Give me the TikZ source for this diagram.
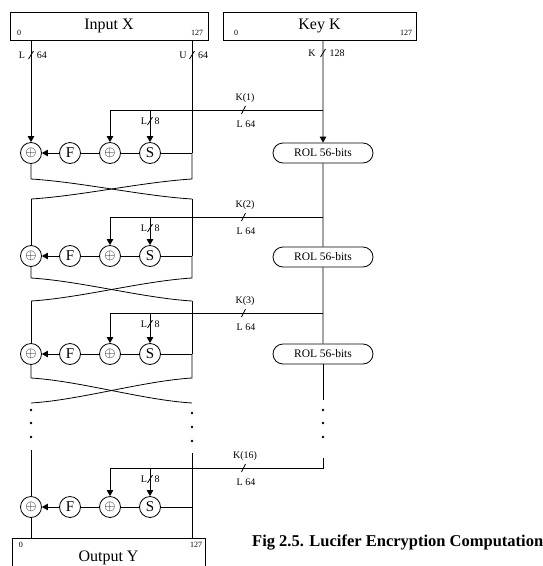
\documentclass[tikz,border=0pt]{standalone}
\usepackage{fontspec}
\setmainfont{Liberation Serif}
\usetikzlibrary{arrows.meta,shapes.misc}
\begin{document}
\begin{tikzpicture}[x=1pt,y=-1pt,
  ln/.style={line width=0.8pt},
  arr/.style={ln,-{Triangle[length=6pt,width=6.5pt]}},
  bigbox/.style={draw,ln,inner sep=0pt,minimum height=28pt,font=\fontsize{16}{16}\selectfont},
  opc/.style={draw,ln,circle,inner sep=0pt,minimum size=21pt,font=\fontsize{15}{15}\selectfont},
  rol/.style={draw,ln,rounded rectangle,inner sep=0pt,minimum width=100pt,minimum height=20pt,font=\fontsize{11.5}{11.5}\selectfont},
  small/.style={inner sep=0pt,font=\fontsize{8}{8}\selectfont},
  klab/.style={inner sep=0pt,font=\fontsize{10}{10}\selectfont},
  dot/.style={circle,fill,inner sep=0pt,minimum size=2.6pt},
]
\useasboundingbox (0,0) rectangle (543,566);

% ---- top boxes
\node[bigbox,minimum width=198pt] (inx) at (109,26) {Input X};
\node[small] (inx0) at (19,33) {0};
\node[small] (inx127) at (197,33) {127};
\node[bigbox,minimum width=193pt] (key) at (319.5,26) {Key K};
\node[small] (key0) at (236,33) {0};
\node[small] (key127) at (406,33) {127};

% ---- bus labels under boxes
\node[klab] (lL) at (22,55) {L};
\node[klab] (l64) at (42,55) {64};
\draw[ln] (28.5,59) -- (33.5,51);
\node[klab] (lU) at (183,55) {U};
\node[klab] (u64) at (203,55) {64};
\draw[ln] (189.5,59) -- (194.5,51);
\node[klab] (lK) at (312,53) {K};
\node[klab] (k128) at (337,53) {128};
\draw[ln] (320.5,57) -- (325.5,49);

% ---- ROL boxes
\node[rol] (rol1) at (323,153) {ROL 56-bits};
\node[rol] (rol2) at (323,257) {ROL 56-bits};
\node[rol] (rol3) at (323,354) {ROL 56-bits};
\draw[arr] (key.south -| rol1) -- (rol1);
\draw[ln] (rol1) -- (rol2);
\draw[ln] (rol2) -- (rol3);
\coordinate (kd) at (323,400);
\draw[ln] (rol3) -- (kd);
\node[dot] (kdot1) at (323,410) {};
\node[dot] (kdot2) at (323,423) {};
\node[dot] (kdot3) at (323,437) {};
\coordinate (ku) at (323,458);

% ---- rounds
\foreach \r/\Y/\K/\lab in {1/153/110/K(1), 2/256/217/K(2), 3/354/313/K(3), 4/507/468/K(16)} {
  \node[opc] (xa\r) at (31,\Y) {$\oplus$};
  \node[opc] (f\r) at (70,\Y) {F};
  \node[opc] (xb\r) at (110,\Y) {$\oplus$};
  \node[opc] (s\r) at (150,\Y) {S};
  \coordinate (r\r) at (192,\Y);
  \draw[arr] (f\r) -- (xa\r);
  \draw[ln] (xb\r) -- (f\r);
  \draw[ln] (s\r) -- (xb\r);
  \draw[ln] (s\r) -- (r\r);
  \coordinate (kc\r) at (110,\K);
  \coordinate (ks\r) at (150,\K);
  \coordinate (kr\r) at (323,\K);
  \draw[arr] (kc\r) -- (xb\r);
  \draw[arr] (ks\r) -- (s\r);
  \node[klab] (lL\r) at (144,\K+11) {L};
  \node[klab] (l8\r) at (157,\K+11) {8};
  \draw[ln] (147.5,\K+15) -- (152.5,\K+7);
  \node[klab] (kl\r) at (245,\K-12) {\lab};
  \node[klab] (kb\r) at (246,\K+14) {L 64};
  \draw[ln] (241.5,\K+4) -- (245.5,\K-4);
}
\draw[ln] (kr1) -- (kc1);
\draw[ln] (kr2) -- (kc2);
\draw[ln] (kr3) -- (kc3);
\draw[ln] (ku) -- (kr4) -- (kc4);

% ---- left / right data lines
\draw[arr] (inx.south -| xa1) -- (xa1);
\draw[ln] (inx.south -| r1) -- (r1);

% crossings
\foreach \c/\t/\b in {1/179/199, 2/278/301, 3/378/403} {
  \coordinate (cLT\c) at (31,\t);
  \coordinate (cRT\c) at (192,\t);
  \coordinate (cLB\c) at (31,\b);
  \coordinate (cRB\c) at (192,\b);
  \draw[ln] (xa\c) -- (cLT\c) .. controls (80,\t+3) and (143,\b-3) .. (cRB\c);
  \draw[ln] (r\c) -- (cRT\c) .. controls (143,\t+3) and (80,\b-3) .. (cLB\c);
}
\draw[ln] (cLB1) -- (xa2);
\draw[ln] (cRB1) -- (r2);
\draw[ln] (cLB2) -- (xa3);
\draw[ln] (cRB2) -- (r3);

% dots
\node[dot] (ld1) at (31,410) {};
\node[dot] (ld2) at (31,423) {};
\node[dot] (ld3) at (31,437) {};
\node[dot] (rd1) at (192,413) {};
\node[dot] (rd2) at (192,427) {};
\node[dot] (rd3) at (192,441) {};

% last round
\coordinate (lu) at (31,450);
\coordinate (ru) at (192,453);
\draw[ln] (lu) -- (xa4);
\node[draw,ln,inner sep=0pt,minimum width=193pt,minimum height=40pt,font=\fontsize{16}{16}\selectfont] (outy) at (108.5,558) {\raisebox{2pt}{Output Y}};
\node[small] (out0) at (21,545) {0};
\node[small] (out127) at (196,545) {127};
\draw[ln] (xa4) -- (xa4 |- outy.north);
\draw[ln] (ru) -- (outy.north -| ru);

% caption
\node[anchor=west,inner sep=0pt,font=\bfseries\fontsize{16.5}{16.5}\selectfont] (cap) at (252,543) {Fig 2.5. Lucifer Encryption Computation};
\end{tikzpicture}
\end{document}
